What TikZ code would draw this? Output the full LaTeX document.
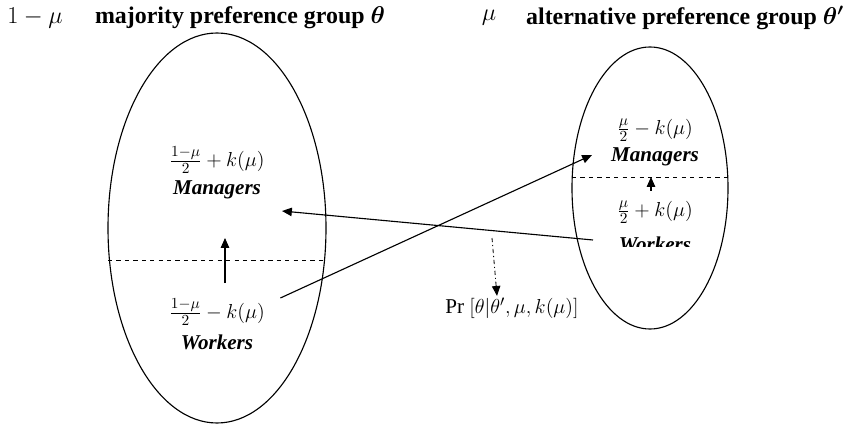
\documentclass[tikz,border=0pt]{standalone}
\usepackage{amsmath}
\usepackage{bm}
\usepackage{fontspec}
\setmainfont{Liberation Serif}
\usepackage{tikz}
\usetikzlibrary{arrows.meta}

\begin{document}
\begin{tikzpicture}[x=0.025cm, y=-0.025cm,
    every node/.style={font=\fontsize{15}{17}\selectfont, inner sep=1pt},
    grp/.style={draw, line width=0.8pt},
    split/.style={dashed, line width=0.7pt},
    tip/.style={-{Triangle[length=7pt,width=6pt]}, line width=0.8pt},
    role/.style={font=\fontsize{15}{17}\selectfont\bfseries\itshape},
    head/.style={font=\fontsize{17}{19}\selectfont\bfseries}]
    \useasboundingbox (0,0) rectangle (849,426);
    % titles
    \node[font=\fontsize{17}{19}\selectfont] (mushare) at (35,18) {$1-\mu$};
    \node[head] (tmaj) at (240,18) {majority preference group $\bm{\theta}$};
    \node[font=\fontsize{17}{19}\selectfont] (mualt) at (489,18) {$\mu$};
    \node[head] (talt) at (685,18) {alternative preference group $\bm{\theta'}$};
    % groups
    \draw[grp] (217,228) ellipse (109 and 195);
    \draw[grp] (650,188) ellipse (78 and 141);
    \draw[split] (108,260) -- (326,260);
    \draw[split] (572,177) -- (728,177);
    % majority group
    \node (lmshare) at (217,160) {$\frac{1-\mu}{2}+k(\mu)$};
    \node[role] (lman) at (217,190) {Managers};
    \node (lwshare) at (217,312) {$\frac{1-\mu}{2}-k(\mu)$};
    \node[role] (lwork) at (217,342) {Workers};
    % alternative group
    \node (rmshare) at (655,130) {$\frac{\mu}{2}-k(\mu)$};
    \node[role] (rman) at (655,157) {Managers};
    \node (rwshare) at (655,212) {$\frac{\mu}{2}+k(\mu)$};
    \begin{scope}
        \clip (600,225) rectangle (710,247);
        \node[role] (rwork) at (655,244) {Workers};
    \end{scope}
    % moves
    \coordinate (lup) at (225,238);
    \coordinate (lmid) at (282,211);
    \coordinate (rend) at (593,240);
    \coordinate (rmgr) at (592,155);
    \draw[tip] (225,283) -- (lup);
    \draw[tip] (651,191) -- (651,177);
    \draw[tip] (rend) -- (lmid);
    \draw[tip] (lwshare.east) ++(14,-14) -- (rmgr);
    % belief
    \node (belief) at (512,308) {$\mathrm{Pr}\ [\theta|\theta',\mu,k(\mu)]$};
    \draw[tip, dash dot, line width=0.6pt] (492,238) -- (belief.north -| 497,0);
\end{tikzpicture}
\end{document}
